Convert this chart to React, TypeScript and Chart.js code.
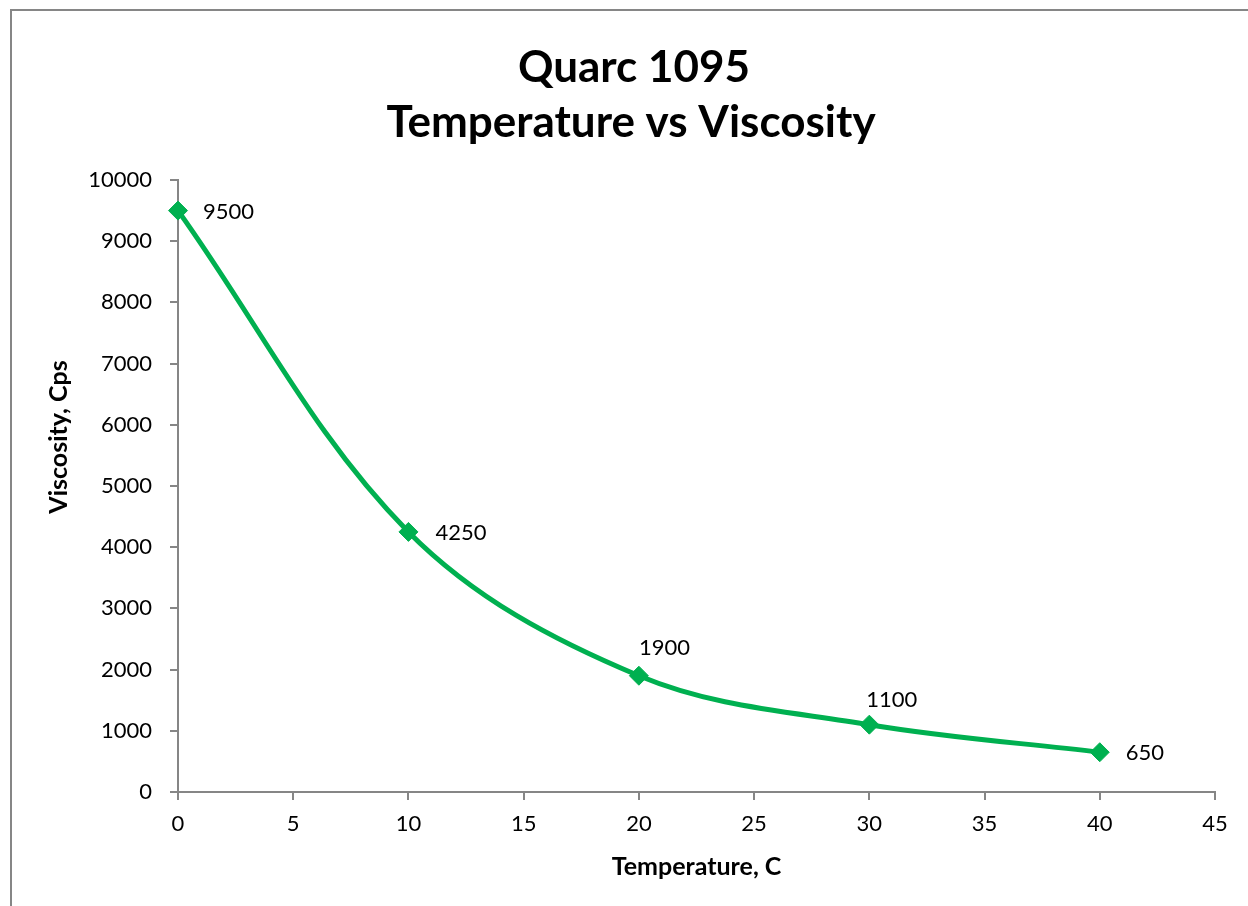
import React, { useEffect, useRef } from "react";
import { Chart, registerables } from "chart.js";

Chart.register(...registerables);

const temperatures = [0, 10, 20, 30, 40];
const viscosities = [9500, 4250, 1900, 1100, 650];
const titleLines = ["Quarc 1095", "Temperature vs Viscosity"];
const xAxisTitle = "Temperature, C";
const yAxisTitle = "Viscosity, Cps";

// label placement relative to the point (left edge dx, vertical centre dy)
const labelOffsets = [
  [25, 1],
  [27, 1],
  [0, -28],
  [-3, -25],
  [26, 1],
];

const FONT = "Lato, 'Open Sans', sans-serif";
const GREEN = "#00B050";
const AXIS = "#868686";

export default function App() {
  const ref = useRef<HTMLCanvasElement | null>(null);

  useEffect(() => {
    if (!ref.current) return;
    const textPlugin = {
      id: "texts",
      afterDraw(chart: any) {
        const ctx = chart.ctx;
        ctx.save();
        ctx.fillStyle = "#000";
        ctx.textBaseline = "alphabetic";
        ctx.textAlign = "center";
        ctx.font = `bold 44px ${FONT}`;
        ctx.fillText(titleLines[0], 634, 82);
        ctx.fillText(titleLines[1], 631, 137);

        ctx.font = `bold 25px ${FONT}`;
        const area = chart.chartArea;
        ctx.fillText(xAxisTitle, (area.left + area.right) / 2, 875);
        ctx.save();
        ctx.translate(67, 437);
        ctx.rotate(-Math.PI / 2);
        ctx.fillText(yAxisTitle, 0, 0);
        ctx.restore();

        ctx.font = `22px ${FONT}`;
        ctx.textAlign = "left";
        ctx.textBaseline = "middle";
        const meta = chart.getDatasetMeta(0);
        meta.data.forEach((pt: any, i: number) => {
          const [dx, dy] = labelOffsets[i];
          ctx.fillText(String(viscosities[i]), pt.x + dx, pt.y + dy);
        });
        ctx.restore();
      },
    };

    const chart = new Chart(ref.current, {
      type: "scatter",
      data: {
        datasets: [
          {
            data: temperatures.map((t, i) => ({ x: t, y: viscosities[i] })),
            showLine: true,
            borderColor: GREEN,
            backgroundColor: GREEN,
            borderWidth: 5,
            tension: 0.35,
            pointStyle: "rectRot",
            pointRadius: 9.5,
            pointBorderWidth: 1,
            pointBackgroundColor: GREEN,
            pointBorderColor: GREEN,
            clip: false,
          } as any,
        ],
      },
      options: {
        responsive: false,
        animation: false,
        events: [],
        layout: { padding: { top: 180, right: 33, bottom: 0, left: 0 } },
        plugins: {
          legend: { display: false },
          title: { display: false },
          tooltip: { enabled: false },
        },
        scales: {
          x: {
            type: "linear",
            min: 0,
            max: 45,
            ticks: {
              stepSize: 5,
              color: "#000",
              font: { family: FONT, size: 22 },
              padding: 11,
              callback: (v: any) => String(v),
            },
            grid: {
              display: true,
              drawOnChartArea: false,
              drawTicks: true,
              tickLength: 8,
              color: AXIS,
              lineWidth: 2,
            },
            border: { display: true, color: AXIS, width: 2 },
            afterFit: (s: any) => {
              s.height = 114;
            },
          },
          y: {
            type: "linear",
            min: 0,
            max: 10000,
            ticks: {
              stepSize: 1000,
              color: "#000",
              font: { family: FONT, size: 22 },
              padding: 18,
              callback: (v: any) => String(v),
            },
            grid: {
              display: true,
              drawOnChartArea: false,
              drawTicks: true,
              tickLength: 8,
              color: AXIS,
              lineWidth: 2,
            },
            border: { display: true, color: AXIS, width: 2 },
            afterFit: (s: any) => {
              s.width = 178;
            },
          },
        },
      },
      plugins: [textPlugin],
    });
    return () => chart.destroy();
  }, []);

  return (
    <div
      style={{
        position: "absolute",
        left: 0,
        top: 0,
        width: 1248,
        height: 906,
        overflow: "hidden",
        background: "#fff",
      }}
    >
      <canvas
        ref={ref}
        width={1248}
        height={906}
        style={{ position: "absolute", left: 0, top: 0, width: 1248, height: 906 }}
      />
      <div
        style={{
          position: "absolute",
          left: 10,
          top: 9,
          width: 1400,
          height: 1100,
          borderTop: `2px solid ${AXIS}`,
          borderLeft: `2px solid ${AXIS}`,
          pointerEvents: "none",
        }}
      />
    </div>
  );
}
